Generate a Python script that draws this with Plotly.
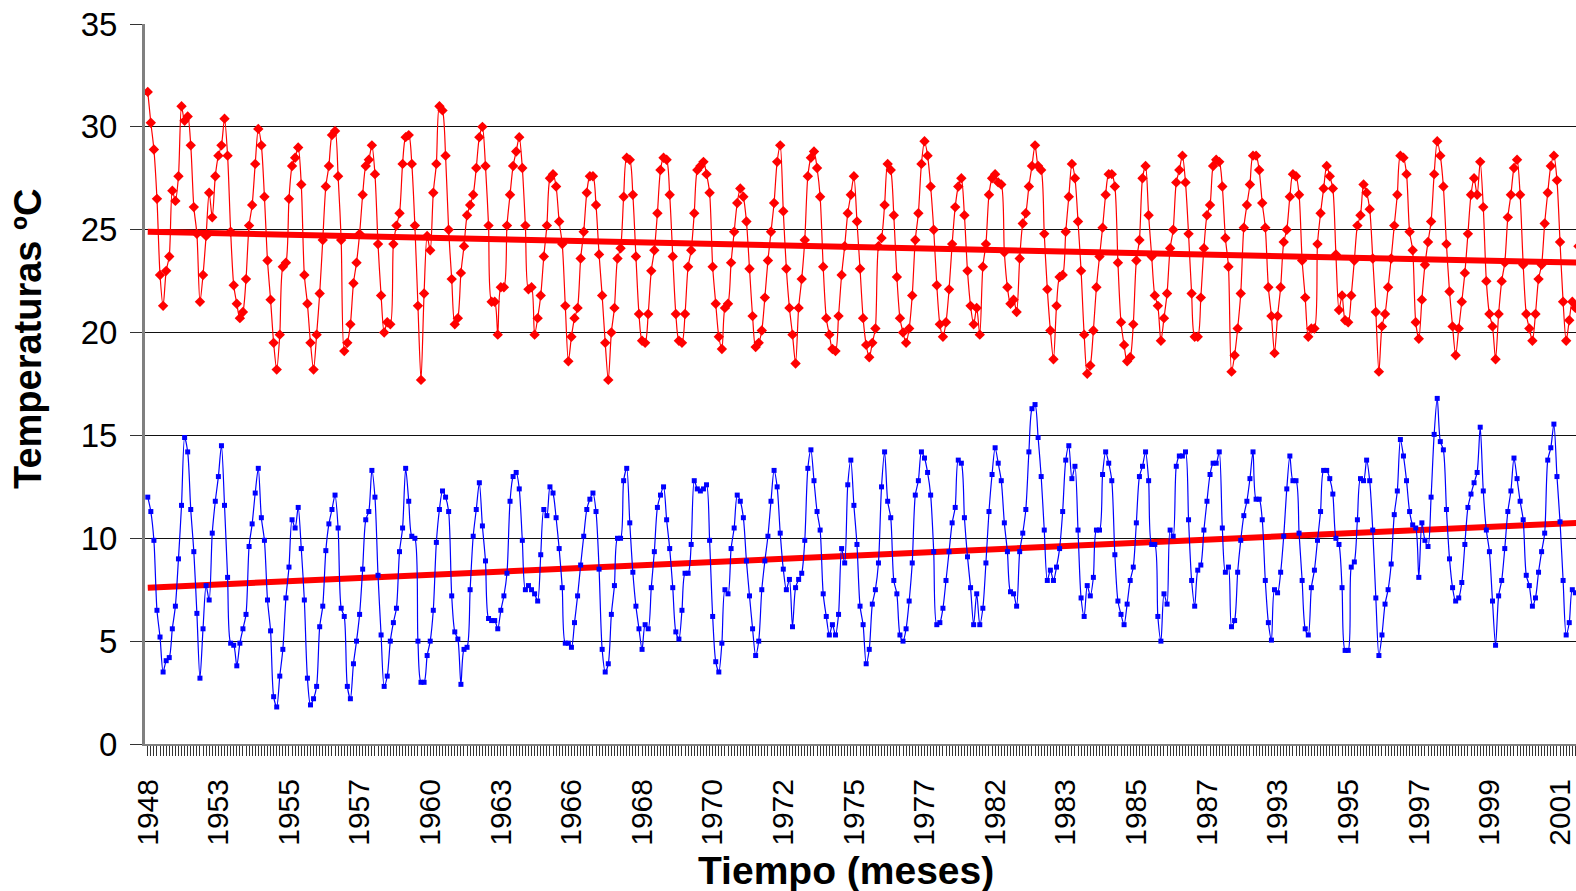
import numpy as np
import plotly.graph_objects as go

# Monthly maximum temperatures (red series)
tmax = [
    31.7, 30.2, 28.9, 26.5, 22.8, 21.3, 23.0, 23.7, 26.9, 26.4, 27.6, 31.0,
    30.3, 30.5, 29.1, 26.1, 24.8, 21.5, 22.8, 24.7, 26.8, 25.6, 27.6, 28.6,
    29.1, 30.4, 28.6, 24.9, 22.3, 21.4, 20.7, 21.0, 22.6, 25.2, 26.2, 28.2,
    29.9, 29.1, 26.6, 23.5, 21.6, 19.5, 18.2, 19.9, 23.2, 23.4, 26.5, 28.1,
    28.5, 29.0, 27.2, 22.8, 21.4, 19.5, 18.2, 19.9, 21.9, 24.5, 27.1, 28.1,
    29.6, 29.8, 27.6, 24.5, 19.1, 19.5, 20.4, 22.4, 23.4, 24.8, 26.7, 28.1,
    28.4, 29.1, 27.7, 24.3, 21.8, 20.0, 20.5, 20.4, 24.3, 25.2, 25.8, 28.2,
    29.5, 29.6, 28.2, 25.2, 21.3, 17.7, 21.9, 24.7, 24.0, 26.8, 28.2, 31.0,
    30.8, 28.6, 25.0, 22.6, 20.4, 20.7, 22.9, 24.2, 25.7, 26.2, 26.7, 28.0,
    29.5, 30.0, 28.1, 25.2, 21.5, 21.5, 19.9, 22.2, 22.2, 25.2, 26.7, 28.1,
    28.8, 29.5, 28.0, 25.2, 22.1, 22.2, 19.9, 20.7, 21.8, 23.7, 25.2, 27.5,
    27.7, 27.1, 25.4, 24.3, 21.3, 18.6, 19.8, 20.7, 21.2, 23.6, 24.9, 26.8,
    27.6, 27.6, 26.2, 23.8, 21.8, 19.5, 17.7, 20.0, 21.2, 23.6, 24.1, 26.6,
    28.5, 28.4, 26.7, 23.7, 20.9, 19.6, 19.5, 20.9, 23.0, 24.0, 25.8, 27.9,
    28.5, 28.4, 26.7, 23.7, 20.9, 19.6, 19.5, 20.9, 23.2, 24.0, 25.8, 27.9,
    28.1, 28.3, 27.7, 26.8, 23.2, 21.4, 19.8, 19.2, 21.2, 21.4, 23.4, 24.9,
    26.3, 27.0, 26.6, 25.4, 23.1, 20.8, 19.3, 19.5, 20.1, 21.7, 23.5, 24.9,
    26.3, 28.3, 29.1, 25.9, 23.1, 21.2, 19.9, 18.5, 21.2, 22.6, 24.5, 27.6,
    28.5, 28.8, 28.0, 26.6, 23.2, 20.7, 19.9, 19.2, 19.1, 20.8, 22.8, 24.2,
    25.8, 26.7, 27.6, 25.4, 23.1, 20.7, 19.4, 18.8, 19.5, 20.2, 24.2, 24.6,
    26.2, 28.2, 27.9, 25.7, 22.7, 20.7, 20.0, 19.5, 20.2, 21.8, 24.5, 25.8,
    28.2, 29.3, 28.6, 27.1, 25.0, 22.3, 20.4, 19.8, 20.5, 22.1, 24.3, 26.1,
    27.1, 27.5, 25.7, 23.0, 21.3, 20.4, 21.2, 19.9, 23.2, 24.3, 26.7, 27.5,
    27.7, 27.3, 27.2, 23.9, 22.2, 21.4, 21.6, 21.0, 23.6, 25.3, 25.8, 27.1,
    28.1, 29.1, 28.1, 27.9, 24.8, 22.1, 20.1, 18.7, 21.3, 22.7, 22.8, 24.9,
    26.6, 28.2, 27.5, 25.4, 23.0, 19.9, 18.0, 18.4, 20.1, 22.2, 23.7, 25.1,
    26.7, 27.7, 27.7, 27.1, 23.4, 20.5, 19.4, 18.6, 18.8, 20.4, 23.5, 24.5,
    27.5, 28.1, 25.7, 23.7, 21.8, 21.3, 19.6, 20.7, 21.9, 24.1, 25.0, 27.3,
    27.9, 28.6, 27.3, 24.8, 21.9, 19.8, 19.8, 21.7, 24.1, 25.7, 26.2, 28.1,
    28.4, 28.3, 27.1, 24.6, 23.2, 18.1, 18.9, 20.2, 21.9, 25.1, 26.2, 27.2,
    28.6, 28.6, 27.9, 26.3, 25.1, 22.2, 20.8, 19.0, 20.8, 22.2, 24.4, 25.0,
    26.6, 27.7, 27.6, 26.7, 23.5, 21.7, 19.8, 20.2, 20.2, 24.3, 25.8, 27.0,
    28.1, 27.6, 27.0, 23.8, 21.1, 21.8, 20.6, 20.5, 21.8, 23.5, 25.2, 25.7,
    27.2, 26.8, 26.0, 23.6, 21.0, 18.1, 20.3, 20.9, 22.2, 23.6, 25.2, 26.7,
    28.6, 28.5, 27.7, 24.9, 24.0, 20.5, 19.7, 21.6, 23.3, 24.4, 25.4, 27.7,
    29.3, 28.6, 27.1, 24.3, 22.0, 20.3, 18.9, 20.2, 21.5, 22.9, 24.8, 26.7,
    27.5, 26.7, 28.3, 26.1, 22.5, 20.9, 20.3, 18.7, 20.9, 22.5, 23.4, 25.6,
    26.7, 28.0, 28.4, 26.7, 23.3, 20.9, 20.2, 19.6, 20.9, 22.6, 23.3, 25.3,
    26.8, 28.1, 28.6, 27.4, 24.4, 21.5, 19.6, 20.6, 21.5, 21.2, 24.2,
]

# Monthly minimum temperatures (blue series)
tmin = [
    12.0, 11.3, 9.9, 6.5, 5.2, 3.5, 4.05, 4.2, 5.6, 6.7, 9.0, 11.6,
    14.9, 14.2, 11.4, 9.35, 6.35, 3.2, 5.6, 7.7, 7.0, 10.25, 11.8, 13.0,
    14.5, 11.6, 8.1, 4.9, 4.8, 3.8, 4.9, 5.6, 6.3, 9.6, 10.7, 12.2,
    13.4, 11.0, 9.9, 7.0, 5.5, 2.3, 1.8, 3.3, 4.6, 7.1, 8.6, 10.9,
    10.5, 11.5, 9.5, 7.0, 3.2, 1.9, 2.2, 2.8, 5.7, 6.7, 9.4, 10.7,
    11.4, 12.1, 10.5, 6.6, 6.2, 2.8, 2.2, 3.9, 5.0, 6.3, 8.5, 10.9,
    11.3, 13.3, 12.0, 8.2, 5.3, 2.8, 3.3, 5.0, 5.9, 6.6, 9.35, 10.5,
    13.4, 11.8, 10.1, 10.0, 5.0, 3.0, 3.0, 4.3, 5.0, 6.5, 9.8, 11.4,
    12.3, 12.0, 11.3, 7.2, 5.45, 5.1, 2.9, 4.6, 4.7, 7.5, 10.1, 11.4,
    12.7, 10.6, 8.9, 6.1, 6.0, 6.0, 5.6, 6.5, 7.2, 8.3, 11.8, 13.0,
    13.2, 12.4, 9.9, 7.5, 7.7, 7.5, 7.3, 6.95, 9.2, 11.4, 11.1, 12.5,
    12.2, 11.0, 9.5, 7.6, 4.9, 4.9, 4.7, 5.9, 7.2, 8.7, 10.1, 11.4,
    11.9, 12.2, 11.3, 8.5, 4.6, 3.5, 3.9, 6.3, 7.7, 10.0, 10.0, 12.8,
    13.4, 10.75, 8.35, 6.7, 5.6, 4.6, 5.8, 5.6, 7.6, 9.35, 11.5, 12.1,
    12.5, 10.9, 9.5, 7.6, 5.45, 5.1, 6.5, 8.3, 8.3, 9.7, 12.8, 12.4,
    12.3, 12.4, 12.6, 9.9, 6.2, 4.0, 3.5, 4.9, 7.5, 7.3, 9.5, 10.5,
    12.1, 11.8, 11.0, 8.9, 7.2, 5.6, 4.3, 5.0, 7.5, 8.9, 10.1, 11.8,
    13.3, 12.5, 10.25, 8.5, 7.5, 8.0, 5.7, 7.6, 8.0, 8.3, 9.9, 13.4,
    14.3, 12.8, 11.3, 10.4, 7.3, 6.2, 5.3, 5.8, 5.3, 6.3, 9.5, 8.8,
    12.6, 13.8, 11.6, 9.7, 6.7, 5.8, 3.9, 4.6, 6.8, 7.5, 8.8, 12.5,
    14.2, 11.8, 11.0, 7.95, 7.3, 5.3, 5.0, 5.6, 6.95, 8.8, 12.1, 12.8,
    14.2, 13.9, 13.2, 12.1, 9.35, 5.8, 5.9, 6.6, 7.95, 9.35, 10.75, 11.5,
    13.8, 13.65, 11.0, 9.1, 7.6, 5.8, 7.3, 5.8, 6.6, 8.8, 11.3, 13.1,
    14.4, 13.65, 12.8, 10.75, 9.35, 7.4, 7.3, 6.7, 9.35, 10.25, 11.4, 14.2,
    16.3, 16.5, 14.9, 13.0, 10.4, 7.95, 8.45, 7.95, 8.6, 9.5, 11.3, 13.8,
    14.5, 12.9, 13.5, 10.4, 7.1, 6.2, 7.7, 7.2, 8.1, 10.4, 10.4, 13.1,
    14.2, 13.65, 12.8, 9.2, 6.95, 6.3, 5.8, 6.8, 7.95, 8.6, 10.75, 13.0,
    13.5, 14.2, 12.8, 9.7, 9.7, 6.2, 5.0, 7.3, 6.8, 10.4, 10.1, 13.5,
    14.0, 14.0, 14.2, 10.9, 7.95, 6.7, 8.45, 8.7, 10.4, 11.8, 13.1, 13.65,
    13.65, 14.2, 10.5, 8.35, 8.6, 5.7, 6.0, 8.35, 9.9, 11.1, 11.8, 12.9,
    14.2, 11.9, 11.9, 10.9, 7.95, 5.9, 5.05, 7.5, 7.35, 8.35, 10.1, 12.4,
    14.0, 12.8, 12.8, 10.25, 7.95, 5.6, 5.3, 7.6, 8.45, 9.9, 11.3, 13.3,
    13.3, 12.9, 12.15, 10.0, 9.7, 7.6, 4.55, 4.55, 8.6, 8.85, 10.9, 12.9,
    12.8, 13.8, 12.8, 10.4, 7.1, 4.3, 5.3, 6.8, 7.5, 8.75, 11.15, 12.3,
    14.8, 14.0, 12.8, 11.3, 10.65, 10.5, 8.1, 10.75, 9.9, 9.6, 12.0, 15.05,
    16.8, 14.7, 14.3, 11.4, 9.0, 7.6, 6.95, 7.1, 7.85, 9.7, 11.5, 12.15,
    12.7, 13.2, 15.4, 12.3, 10.4, 9.35, 6.95, 4.8, 7.2, 7.95, 9.5, 11.3,
    12.3, 13.9, 12.9, 11.8, 10.9, 8.2, 7.7, 6.7, 7.1, 8.35, 9.35, 10.25,
    13.8, 14.4, 15.55, 13.0, 10.8, 7.95, 5.3, 5.9, 7.5, 7.35, 10.0,
]

# Category labels shown on the x axis (one every label_step months)
tick_years = [1948, 1953, 1955, 1957, 1960, 1963, 1966, 1968, 1970, 1972, 1975,
              1977, 1982, 1983, 1985, 1987, 1993, 1995, 1997, 1999, 2001]
label_step = 23

# Linear trend lines (value at first and last month)
tmax_trend = [24.9, 23.4]
tmin_trend = [7.6, 10.75]

n = len(tmax)
x = np.arange(n)
xt = [0, n - 1]

FONT = "Arial, Liberation Sans, sans-serif"

fig = go.Figure()
fig.add_trace(go.Scatter(x=xt, y=tmax_trend, mode="lines",
                         line=dict(color="#FF0000", width=6), hoverinfo="skip"))
fig.add_trace(go.Scatter(x=xt, y=tmin_trend, mode="lines",
                         line=dict(color="#FF0000", width=6), hoverinfo="skip"))
fig.add_trace(go.Scatter(x=x, y=tmax, mode="lines+markers",
                         line=dict(color="#FF0000", width=1.2, shape="spline", smoothing=0.8),
                         marker=dict(symbol="diamond", size=8, color="#FF0000")))
fig.add_trace(go.Scatter(x=x, y=tmin, mode="lines+markers",
                         line=dict(color="#0000FF", width=1.2, shape="spline", smoothing=0.8),
                         marker=dict(symbol="square", size=5, color="#0000FF")))

fig.update_layout(
    width=1576, height=891,
    margin=dict(l=145, r=0, t=24, b=147),
    paper_bgcolor="white", plot_bgcolor="white",
    showlegend=False,
    font=dict(family=FONT, color="black"),
    annotations=[
        dict(text="<b>Temperaturas ºC</b>", textangle=-90,
             xref="paper", yref="paper", x=0, y=(744 - 339) / 720,
             xshift=-(145 - 28), xanchor="center", yanchor="middle",
             showarrow=False, font=dict(size=38, family=FONT, color="black")),
        dict(text="<b>Tiempo (meses)</b>",
             xref="paper", yref="paper", x=(846 - 145) / 1431, y=-(870 - 744) / 720,
             xanchor="center", yanchor="middle",
             showarrow=False, font=dict(size=39, family=FONT, color="black")),
    ],
)

fig.update_xaxes(
    range=[-0.9, 465.2],
    tickmode="array",
    tickvals=[i * label_step for i in range(len(tick_years))],
    ticktext=[str(y) for y in tick_years],
    tickangle=-90,
    tickfont=dict(size=30, family=FONT, color="black"),
    ticks="outside", ticklen=10, tickcolor="#333333", tickwidth=1,
    ticklabelstandoff=11,
    showline=True, linecolor="#808080", linewidth=2,
    showgrid=False, zeroline=False,
    minor=dict(tickmode="linear", tick0=0, dtick=1, ticks="outside", ticklen=10,
               tickcolor="#333333", tickwidth=1, showgrid=False),
)

fig.update_yaxes(
    range=[0, 35], tick0=0, dtick=5,
    tickfont=dict(size=33, family=FONT, color="black"),
    ticks="outside", ticklen=12, tickcolor="#333333", tickwidth=1,
    ticklabelstandoff=6,
    showline=True, linecolor="#808080", linewidth=3,
    showgrid=True, gridcolor="#111111", gridwidth=1,
    zeroline=False,
)

fig.write_html("out.html")
